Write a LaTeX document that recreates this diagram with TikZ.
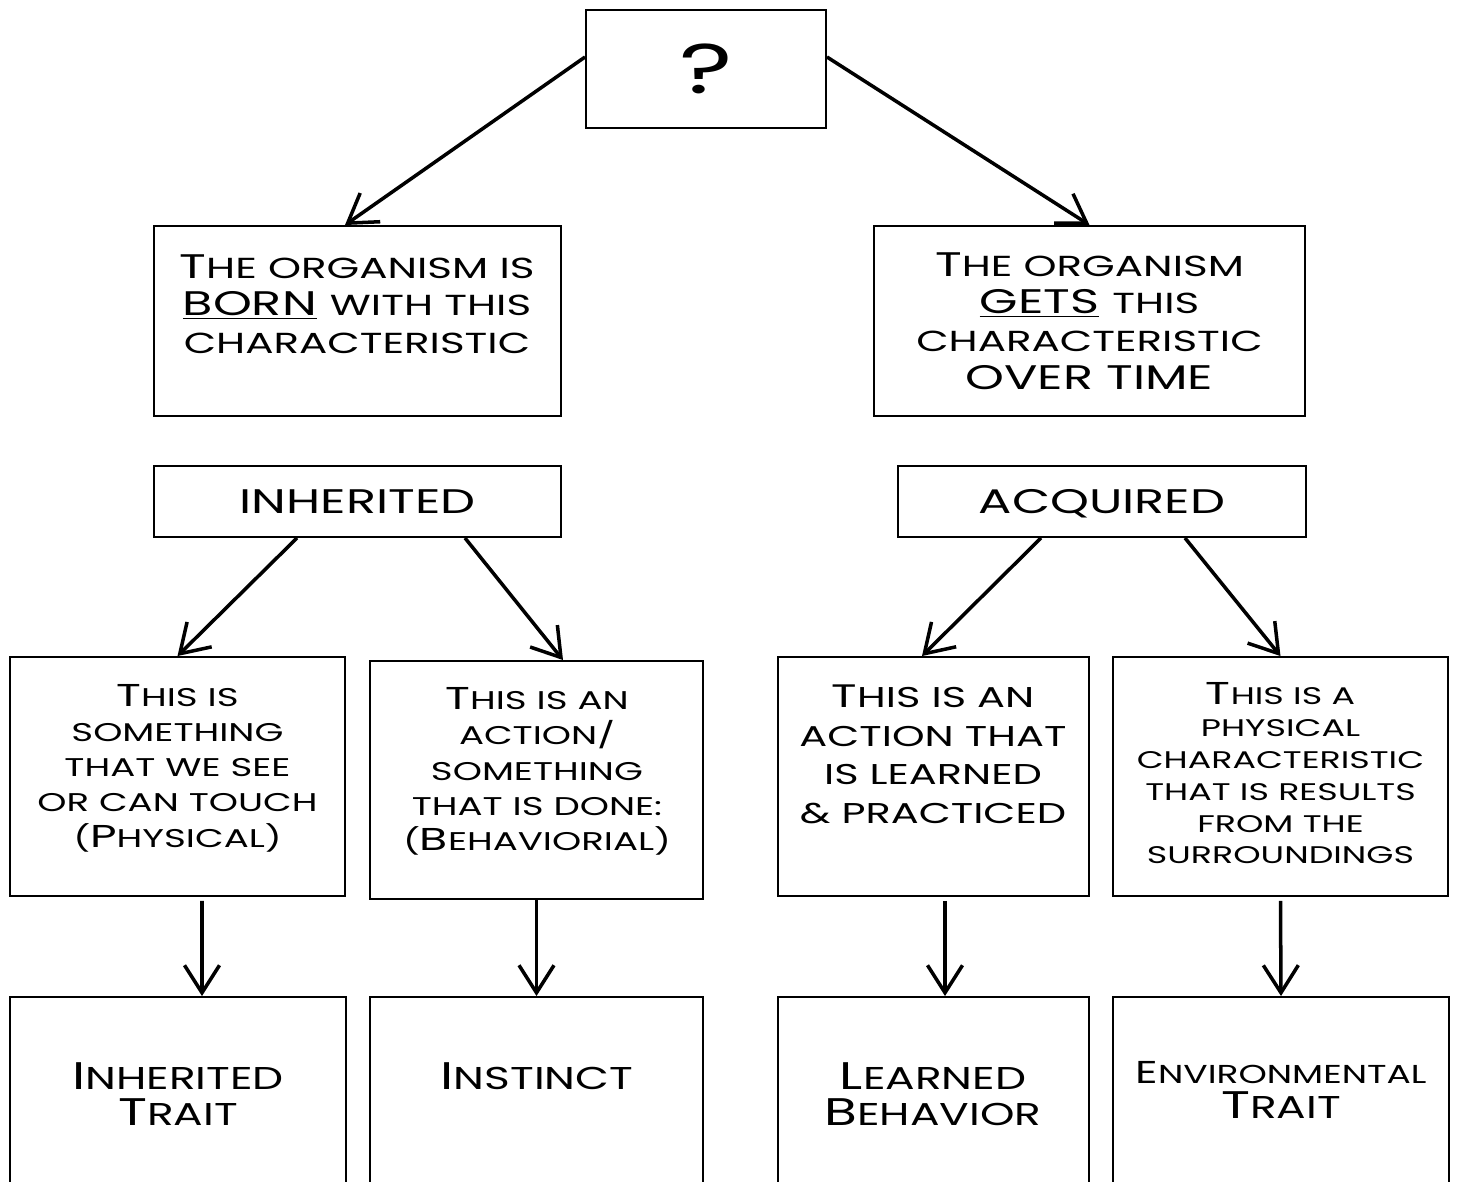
\documentclass[tikz,border=0pt]{standalone}
\usepackage{fontspec}
\setmainfont{Poppins}[FakeStretch=1.45]
\newfontfamily\tallfont{Poppins}[FakeStretch=1.39]
\usetikzlibrary{arrows.meta,calc}

\makeatletter
\newcommand\smcratio{0.85}
\newcommand\smc[1]{{\fontsize{\strip@pt\dimexpr\smcratio\dimexpr\f@size pt\relax\relax}{\f@baselineskip}\selectfont#1}}
\makeatother

\begin{document}
\begin{tikzpicture}[
    box/.style={draw, line width=1.1pt, inner sep=0pt},
    txt/.style={align=center, inner sep=0pt},
    big/.style={font=\fontsize{19.4}{21.5}\selectfont},
    mid/.style={font=\fontsize{18}{20.1}\selectfont\def\smcratio{0.81}},
    low/.style={font=\tallfont\fontsize{21.9}{20.4}\selectfont\def\smcratio{0.82}},
    arr/.style={line width=2pt, -{Straight Barb[length=0.55cm, width=0.7cm, line width=2pt]}}
  ]
  \useasboundingbox (0,0) rectangle (29.14,-23.64);
  \clip (0,0) rectangle (29.14,-23.64);

  \node [box, minimum width=4.8cm, minimum height=2.36cm, font=\fontsize{40}{40}\selectfont] (q) at (14.12,-1.38) {?};

  \node [box, minimum width=8.14cm, minimum height=3.8cm] (born) at (7.15,-6.42) {};
  \node [txt, big] (bornT) at (7.14,-6.08)
    {T\smc{HE ORGANISM IS}\\\underline{BORN} \smc{WITH THIS}\\\smc{CHARACTERISTIC}};
  \node [box, txt, big, minimum width=8.62cm, minimum height=3.8cm] (gets) at (21.79,-6.42)
    {T\smc{HE ORGANISM}\\\underline{GETS} \smc{THIS}\\\smc{CHARACTERISTIC}\\OVER TIME};

  \node [box, big, text depth=0pt, minimum width=8.14cm, minimum height=1.42cm] (inh) at (7.15,-10.03) {INHERITED};
  \node [box, big, text depth=0pt, minimum width=8.16cm, minimum height=1.42cm] (acq) at (22.04,-10.03) {ACQUIRED};

  \node [box, minimum width=6.7cm, minimum height=4.78cm] (phys) at (3.55,-15.53) {};
  \node [txt, mid] (physT) at (3.55,-15.36)
    {T\smc{HIS IS}\\\smc{SOMETHING}\\\smc{THAT WE SEE}\\\smc{OR CAN TOUCH}\\\smc{(}P\smc{HYSICAL)}};
  \node [box, minimum width=6.66cm, minimum height=4.76cm] (behav) at (10.73,-15.6) {};
  \node [txt, mid] (behavT) at (10.74,-15.43)
    {T\smc{HIS IS AN}\\\smc{ACTION/}\\\smc{SOMETHING}\\\smc{THAT IS DONE:}\\\smc{(}B\smc{EHAVIORIAL)}};
  \node [box, minimum width=6.22cm, minimum height=4.78cm] (learn) at (18.67,-15.53) {};
  \node [txt, font=\fontsize{18.5}{22}\selectfont\def\smcratio{0.88}] (learnT) at (18.66,-15.09)
    {T\smc{HIS IS AN}\\\smc{ACTION THAT}\\\smc{IS LEARNED}\\\smc{\& PRACTICED}};
  \node [box, minimum width=6.7cm, minimum height=4.78cm] (env) at (25.61,-15.53) {};
  \node [txt, font=\fontsize{18}{18.1}\selectfont\def\smcratio{0.76}] (envT) at (25.61,-15.47)
    {T\smc{HIS IS A}\\\smc{PHYSICAL}\\\smc{CHARACTERISTIC}\\\smc{THAT IS RESULTS}\\\smc{FROM THE}\\\smc{SURROUNDINGS}};

  \node [box, minimum width=6.72cm, minimum height=4.46cm] (inhtr) at (3.56,-22.17) {};
  \node [txt, low] (inhtrT) at (3.56,-21.88) {I\smc{NHERITED}\\T\smc{RAIT}};
  \node [box, minimum width=6.66cm, minimum height=4.46cm] (inst) at (10.73,-22.17) {};
  \node [txt, low] (instT) at (10.74,-21.52) {I\smc{NSTINCT}};
  \node [box, minimum width=6.22cm, minimum height=4.46cm] (lrnd) at (18.67,-22.17) {};
  \node [txt, low] (lrndT) at (18.66,-21.89) {L\smc{EARNED}\\B\smc{EHAVIOR}};
  \node [box, minimum width=6.72cm, minimum height=4.46cm] (envtr) at (25.62,-22.17) {};
  \node [txt, low] (envtrT) at (25.62,-21.8) {{\fontsize{18}{20.4}\selectfont E\smc{NVIRONMENTAL}}\\T\smc{RAIT}};

  \draw [arr] ($(q.west)+(0,0.24)$) -- ($(born.north)+(-0.25,0)$);
  \draw [arr] ($(q.east)+(0,0.24)$) -- (gets.north);
  \draw [arr] ($(inh.south)+(-1.21,0)$) -- (phys.north);
  \draw [arr] ($(inh.south)+(2.15,0)$) -- ($(behav.north)+(0.53,0)$);
  \draw [arr] ($(acq.south)+(-1.22,0)$) -- ($(learn.north)+(-0.23,0)$);
  \draw [arr] ($(acq.south)+(1.66,0)$) -- (env.north);

  \draw [arr] ($(phys.south)+(0.49,-0.08)$) -- ($(inhtr.north)+(0.48,0)$);
  \draw [arr] (behav.south) -- (inst.north);
  \draw [arr] ($(learn.south)+(0.23,-0.08)$) -- ($(lrnd.north)+(0.23,0)$);
  \draw [arr] ($(env.south)+(0,-0.08)$) -- (envtr.north);
\end{tikzpicture}
\end{document}
